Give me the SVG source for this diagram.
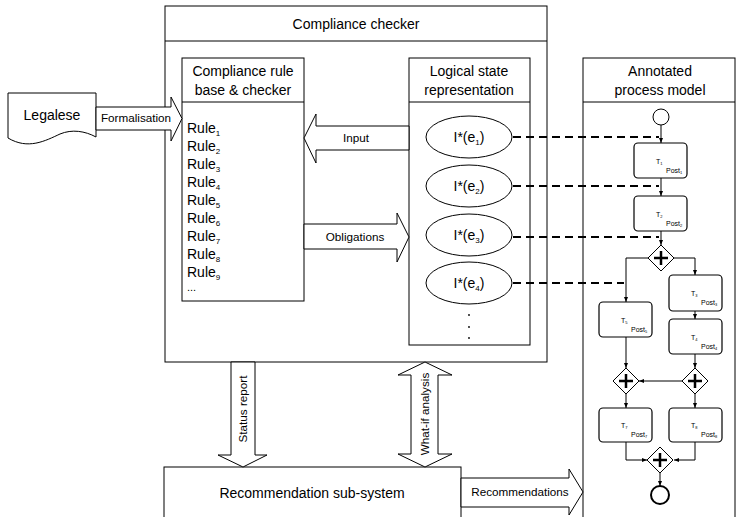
<svg xmlns="http://www.w3.org/2000/svg" width="736" height="517" viewBox="0 0 736 517">
<style>
text{font-family:"Liberation Sans",Arial,sans-serif;fill:#000}
.box{fill:#fff;stroke:#000;stroke-width:1}
.t14{font-size:14px;text-anchor:middle}
.t11{font-size:11.7px;text-anchor:middle}
.rule{font-size:14px}
.sub{font-size:8px}
.dash{stroke:#000;stroke-width:2;stroke-dasharray:8,5;fill:none}
.flow{stroke:#000;stroke-width:1;fill:none}
.task{fill:#fff;stroke:#000;stroke-width:1.2}
.tl{font-size:7px}
.gw{fill:#fff;stroke:#000;stroke-width:1}
.plus{stroke:#000;stroke-width:2.5;fill:none}
.arr{fill:#fff;stroke:#000;stroke-width:1}
</style>
<defs>
<marker id="ah" markerWidth="6" markerHeight="6" refX="5" refY="3" orient="auto" markerUnits="userSpaceOnUse">
<path d="M0,1 L5,3 L0,5 Z" fill="#000"/>
</marker>
</defs>

<g id="compliance-checker">
<rect class="box" x="165" y="6" width="382" height="356"/>
<line x1="165" y1="41" x2="547" y2="41" stroke="#000"/>
<text class="t14" x="356" y="29">Compliance checker</text>
</g>

<g id="rule-base">
<rect class="box" x="182" y="58" width="122" height="243"/>
<line x1="182" y1="102" x2="304" y2="102" stroke="#000"/>
<text class="t14" x="243" y="76">Compliance rule</text>
<text class="t14" x="243" y="95">base &amp; checker</text>
<text class="rule" x="187" y="133">Rule<tspan class="sub" dy="3">1</tspan></text>
<text class="rule" x="187" y="151">Rule<tspan class="sub" dy="3">2</tspan></text>
<text class="rule" x="187" y="169">Rule<tspan class="sub" dy="3">3</tspan></text>
<text class="rule" x="187" y="187">Rule<tspan class="sub" dy="3">4</tspan></text>
<text class="rule" x="187" y="205">Rule<tspan class="sub" dy="3">5</tspan></text>
<text class="rule" x="187" y="223">Rule<tspan class="sub" dy="3">6</tspan></text>
<text class="rule" x="187" y="241">Rule<tspan class="sub" dy="3">7</tspan></text>
<text class="rule" x="187" y="259">Rule<tspan class="sub" dy="3">8</tspan></text>
<text class="rule" x="187" y="277">Rule<tspan class="sub" dy="3">9</tspan></text>
<text class="rule" x="187" y="291" style="font-size:11px">...</text>
</g>

<g id="logical-state">
<rect class="box" x="409" y="58" width="121" height="287"/>
<line x1="409" y1="102" x2="530" y2="102" stroke="#000"/>
<text class="t14" x="469" y="76">Logical state</text>
<text class="t14" x="469" y="95">representation</text>
<g id="e1"><ellipse class="box" cx="469" cy="137" rx="43" ry="21"/><text class="t14" x="469" y="142">I*(e<tspan class="sub" dy="3">1</tspan><tspan dy="-3">)</tspan></text></g>
<g id="e2"><ellipse class="box" cx="469" cy="186" rx="43" ry="21"/><text class="t14" x="469" y="191">I*(e<tspan class="sub" dy="3">2</tspan><tspan dy="-3">)</tspan></text></g>
<g id="e3"><ellipse class="box" cx="469" cy="235" rx="43" ry="21"/><text class="t14" x="469" y="240">I*(e<tspan class="sub" dy="3">3</tspan><tspan dy="-3">)</tspan></text></g>
<g id="e4"><ellipse class="box" cx="469" cy="283" rx="43" ry="21"/><text class="t14" x="469" y="288">I*(e<tspan class="sub" dy="3">4</tspan><tspan dy="-3">)</tspan></text></g>
<circle cx="469" cy="315" r="0.9" fill="#000"/>
<circle cx="469" cy="327" r="0.9" fill="#000"/>
<circle cx="469" cy="338" r="0.9" fill="#000"/>
</g>

<g id="legalese">
<path class="box" d="M8,93 H96 V137 C85,131 72,129 60,134 C45,141 28,150 8,138 Z"/>
<text class="t14" x="52" y="120">Legalese</text>
</g>

<g id="process-model">
<rect class="box" x="583" y="58" width="152" height="470"/>
<line x1="583" y1="102" x2="735" y2="102" stroke="#000"/>
<text class="t14" x="660" y="76">Annotated</text>
<text class="t14" x="660" y="95">process model</text>
</g>

<g id="recommendation">
<rect class="box" x="164" y="467" width="297" height="60"/>
<text class="t14" x="312" y="498">Recommendation sub-system</text>
</g>

<g id="process">
<circle cx="661" cy="117" r="8" fill="#fff" stroke="#000"/>
<line class="flow" x1="661" y1="125" x2="661" y2="143" marker-end="url(#ah)"/>
<g id="t1"><rect class="task" x="634" y="143" width="53" height="35" rx="4"/><text class="tl" x="656" y="164">T<tspan style="font-size:4px" dy="1">1</tspan></text><text class="tl" x="666" y="173">Post<tspan style="font-size:4px" dy="1">1</tspan></text></g>
<line class="flow" x1="661" y1="178" x2="661" y2="196" marker-end="url(#ah)"/>
<g id="t2"><rect class="task" x="634" y="196" width="53" height="35" rx="4"/><text class="tl" x="656" y="217">T<tspan style="font-size:4px" dy="1">2</tspan></text><text class="tl" x="666" y="226">Post<tspan style="font-size:4px" dy="1">2</tspan></text></g>
<line class="flow" x1="661" y1="231" x2="661" y2="245" marker-end="url(#ah)"/>
<g id="g1"><path class="gw" d="M661,245 L674,258 L661,271 L648,258 Z"/><path class="plus" d="M661,251 V265 M654,258 H668"/></g>
<path class="flow" d="M648,258 H626 V302" marker-end="url(#ah)"/>
<path class="flow" d="M674,258 H695 V275" marker-end="url(#ah)"/>
<g id="t3"><rect class="task" x="669" y="275" width="53" height="36" rx="4"/><text class="tl" x="691" y="296">T<tspan style="font-size:4px" dy="1">3</tspan></text><text class="tl" x="701" y="305">Post<tspan style="font-size:4px" dy="1">3</tspan></text></g>
<line class="flow" x1="695" y1="311" x2="695" y2="319" marker-end="url(#ah)"/>
<g id="t4"><rect class="task" x="669" y="319" width="53" height="35" rx="4"/><text class="tl" x="691" y="340">T<tspan style="font-size:4px" dy="1">4</tspan></text><text class="tl" x="701" y="349">Post<tspan style="font-size:4px" dy="1">4</tspan></text></g>
<g id="t5"><rect class="task" x="599" y="302" width="53" height="35" rx="4"/><text class="tl" x="621" y="323">T<tspan style="font-size:4px" dy="1">5</tspan></text><text class="tl" x="631" y="332">Post<tspan style="font-size:4px" dy="1">5</tspan></text></g>
<line class="flow" x1="626" y1="337" x2="626" y2="368" marker-end="url(#ah)"/>
<line class="flow" x1="695" y1="354" x2="695" y2="368" marker-end="url(#ah)"/>
<g id="g2"><path class="gw" d="M626,368 L639,381 L626,394 L613,381 Z"/><path class="plus" d="M626,374 V388 M619,381 H633"/></g>
<g id="g3"><path class="gw" d="M695,368 L708,381 L695,394 L682,381 Z"/><path class="plus" d="M695,374 V388 M688,381 H702"/></g>
<line class="flow" x1="682" y1="381" x2="639" y2="381" marker-end="url(#ah)"/>
<line class="flow" x1="626" y1="394" x2="626" y2="408" marker-end="url(#ah)"/>
<line class="flow" x1="695" y1="394" x2="695" y2="408" marker-end="url(#ah)"/>
<g id="t7"><rect class="task" x="599" y="408" width="53" height="34" rx="4"/><text class="tl" x="621" y="428">T<tspan style="font-size:4px" dy="1">7</tspan></text><text class="tl" x="631" y="437">Post<tspan style="font-size:4px" dy="1">7</tspan></text></g>
<g id="t8"><rect class="task" x="669" y="408" width="53" height="34" rx="4"/><text class="tl" x="691" y="428">T<tspan style="font-size:4px" dy="1">8</tspan></text><text class="tl" x="701" y="437">Post<tspan style="font-size:4px" dy="1">8</tspan></text></g>
<path class="flow" d="M626,442 V460 H647" marker-end="url(#ah)"/>
<path class="flow" d="M695,442 V460 H674" marker-end="url(#ah)"/>
<g id="g4"><path class="gw" d="M660,447 L673,460 L660,473 L647,460 Z"/><path class="plus" d="M660,453 V467 M653,460 H667"/></g>
<line class="flow" x1="660" y1="473" x2="660" y2="486" marker-end="url(#ah)"/>
<circle cx="660" cy="495" r="9" fill="#fff" stroke="#000" stroke-width="2"/>
</g>

<g id="connectors">
<polygon class="arr" points="96,107 171,107 171,97 182,118.5 171,141 171,130 96,130"/>
<text class="t11" x="136" y="122">Formalisation</text>
<polygon class="arr" points="409,126 316,126 316,114 304,138 316,163 316,150 409,150"/>
<text class="t11" x="356" y="142">Input</text>
<polygon class="arr" points="304,224 397,224 397,213 409,237 397,262 397,249 304,249"/>
<text class="t11" x="355" y="241">Obligations</text>
<polygon class="arr" points="231,362 255,362 255,455 267,455 243,467 218,455 231,455"/>
<text class="t11" transform="translate(247,409) rotate(-90)">Status report</text>
<polygon class="arr" points="425,362 452,375 438,375 438,454 452,454 425,467 398,454 411,454 411,375 398,375"/>
<text class="t11" transform="translate(429,414) rotate(-90)">What-if analysis</text>
<polygon class="arr" points="461,478 569,478 569,469 583,492 569,515 569,507 461,507"/>
<text class="t11" x="520" y="496">Recommendations</text>
<line class="dash" x1="513" y1="137" x2="659" y2="137"/>
<line class="dash" x1="513" y1="186" x2="659" y2="186"/>
<line class="dash" x1="513" y1="237" x2="659" y2="237"/>
<line class="dash" x1="513" y1="283" x2="624" y2="283"/>
</g>
</svg>
